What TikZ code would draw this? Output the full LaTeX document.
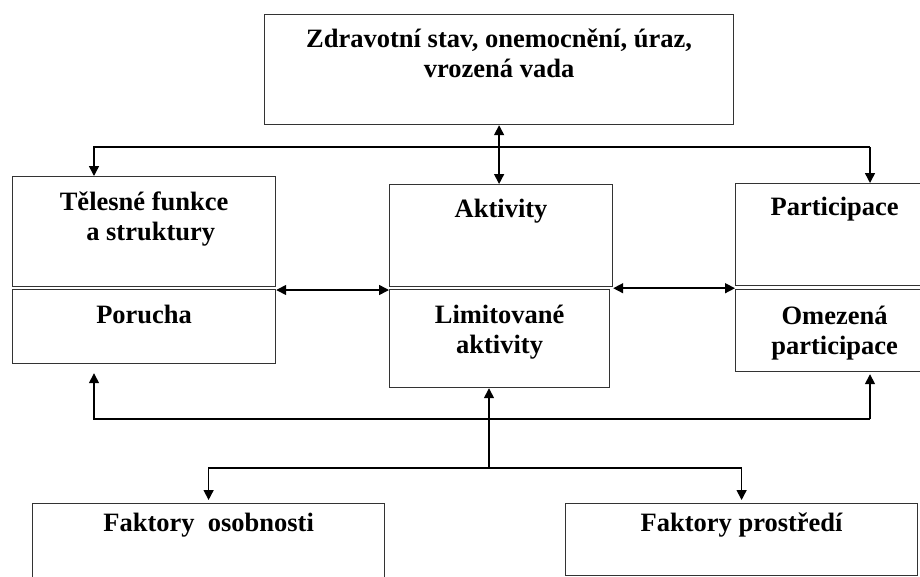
\documentclass[tikz,border=0pt]{standalone}
\usepackage{fontspec}
\setmainfont{Liberation Serif}
\usetikzlibrary{arrows.meta, positioning}

\begin{document}
\begin{tikzpicture}[x=1pt, y=-1pt,
  box/.style={draw=black!80, line width=1.2pt, rectangle, anchor=north west, inner sep=0pt},
  popis/.style={font=\bfseries\fontsize{26.5}{30}\selectfont, align=center, inner sep=0pt, text height=17.5pt, anchor=north},
  dvaradky/.style={text height=47.5pt},
  sip/.style={-{Triangle[length=10pt,width=10pt]}, line width=1.5pt},
  dvojsip/.style={{Triangle[length=10pt,width=10pt]}-{Triangle[length=10pt,width=10pt]}, line width=1.5pt}]
\useasboundingbox (0,0) rectangle (920,576);
\clip (0,0) rectangle (920,576);

\node[box, minimum width=469pt, minimum height=110pt] (zdravi) at (264,14) {};
\node[popis, dvaradky] (zdravi-t) at ([yshift=-16pt]zdravi.north) {Zdravotní stav, onemocnění, úraz,\\vrozená vada};

\node[box, minimum width=263pt, minimum height=110pt] (teles) at (12,176) {};
\node[popis, dvaradky] (teles-t) at ([yshift=-17pt]teles.north) {Tělesné funkce\\\ \ a struktury};
\node[box, minimum width=263pt, minimum height=74pt] (porucha) at (12,289) {};
\node[popis] (porucha-t) at ([yshift=-17pt]porucha.north) {Porucha};

\node[box, minimum width=223pt, minimum height=102pt] (aktiv) at (389,184) {};
\node[popis] (aktiv-t) at ([yshift=-16pt]aktiv.north) {Aktivity};
\node[box, minimum width=220pt, minimum height=98pt] (limit) at (389,289) {};
\node[popis, dvaradky] (limit-t) at ([yshift=-17pt]limit.north) {Limitované\\aktivity};

\node[box, minimum width=198pt, minimum height=102pt] (partic) at (735,183) {};
\node[popis] (partic-t) at ([yshift=-15pt]partic.north) {Participace};
\node[box, minimum width=198pt, minimum height=82pt] (omez) at (735,289) {};
\node[popis, dvaradky] (omez-t) at ([yshift=-18pt]omez.north) {Omezená\\participace};

\node[box, minimum width=352pt, minimum height=80pt] (osob) at (32,503) {};
\node[popis] (osob-t) at ([yshift=-11pt]osob.north) {Faktory\ \ osobnosti};
\node[box, minimum width=352pt, minimum height=72pt] (prost) at (565,503) {};
\node[popis] (prost-t) at ([yshift=-11pt]prost.north) {Faktory prostředí};

\draw[dvojsip] (zdravi.south) -- (zdravi.south |- aktiv.north);

\coordinate (horeL) at (94,147);
\coordinate (horeP) at (870,147);
\draw[sip] (horeP) -- (horeL) -- (horeL |- teles.north);
\draw[sip] (horeP) -- (horeP |- partic.north);

\draw[dvojsip] ([yshift=-1pt]porucha.north east) -- ([yshift=-1pt]porucha.north east -| limit.west);
\draw[dvojsip] ([yshift=-1pt]aktiv.south east) -- ([yshift=-1pt]aktiv.south east -| omez.west);

\coordinate (doleL) at (94,419);
\coordinate (doleP) at (870,419);
\draw[sip, shorten >=9pt] (doleP) -- (doleL) -- (doleL |- porucha.south);
\draw[sip, shorten >=2pt] (doleP) -- (doleP |- omez.south);

\coordinate (stred) at (489,468);
\draw[sip] (stred) -- (stred |- limit.south);
\draw[sip, shorten >=3pt] (stred) -| (osob.north);
\draw[sip, shorten >=3pt] (stred) -| (prost.north);
\end{tikzpicture}
\end{document}
